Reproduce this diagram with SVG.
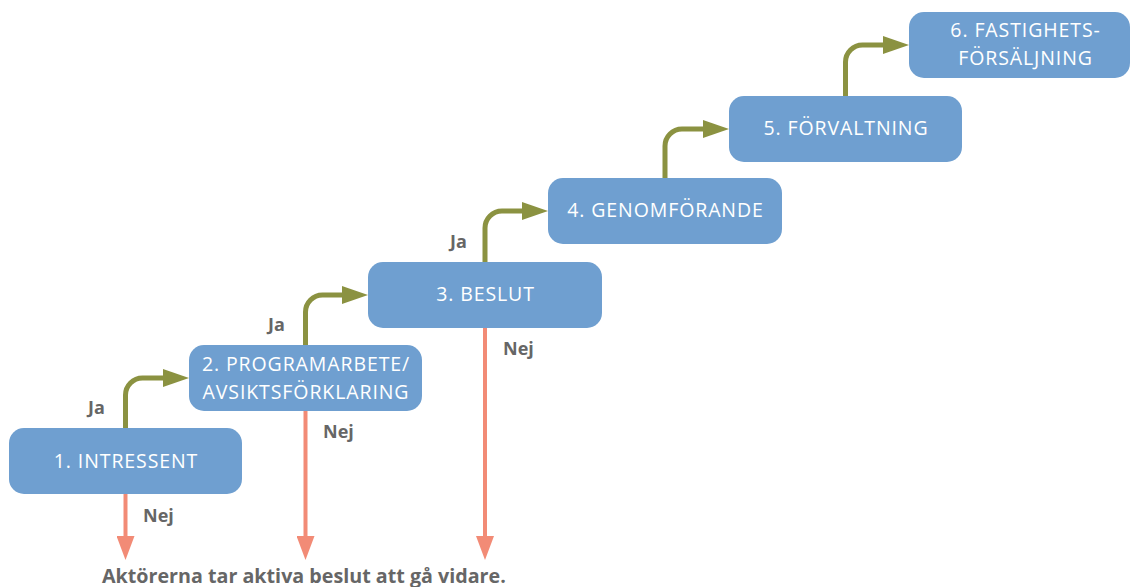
<svg xmlns="http://www.w3.org/2000/svg" width="1131" height="587" viewBox="0 0 1131 587">
<defs>
<style>
.box{fill:#6f9fd0;}
.nt{font-family:"Open Sans","Liberation Sans",sans-serif;font-size:19.5px;letter-spacing:0.9px;fill:#ffffff;text-anchor:middle;}
.lbl{font-family:"Open Sans","Liberation Sans",sans-serif;font-size:18px;font-weight:bold;fill:#666666;}
.yes{fill:none;stroke:#8b9241;stroke-width:5;marker-end:url(#ag);}
.no{fill:none;stroke:#f28b76;stroke-width:4;marker-end:url(#ar);}
</style>
<marker id="ag" markerUnits="userSpaceOnUse" markerWidth="26" markerHeight="18" refX="6" refY="9" orient="auto"><path d="M0,0 L26,9 L0,18 z" fill="#8b9241"/></marker>
<marker id="ar" markerUnits="userSpaceOnUse" markerWidth="24" markerHeight="18" refX="4" refY="9" orient="auto"><path d="M0,0 L24,9 L0,18 z" fill="#f28b76"/></marker>
</defs>
<rect width="1131" height="587" fill="#ffffff"/>
<g id="connectors">
<path class="yes" d="M125.5,428 V395 A17,17 0 0 1 142.5,378 H169"/>
<path class="yes" d="M305.5,345 V312 A17,17 0 0 1 322.5,295 H348"/>
<path class="yes" d="M485,262 V228 A17,17 0 0 1 502,211 H528"/>
<path class="yes" d="M665,178 V146 A17,17 0 0 1 682,129 H709"/>
<path class="yes" d="M845.5,96 V62 A17,17 0 0 1 862.5,45 H889"/>
<path class="no" d="M125.5,494 V540"/>
<path class="no" d="M305.5,411 V540"/>
<path class="no" d="M485,328 V540"/>
<text class="lbl" x="88" y="414">Ja</text>
<text class="lbl" x="268" y="331">Ja</text>
<text class="lbl" x="450" y="248">Ja</text>
<text class="lbl" x="143" y="522">Nej</text>
<text class="lbl" x="323" y="438">Nej</text>
<text class="lbl" x="503" y="355">Nej</text>
</g>
<g id="n1"><rect class="box" x="9" y="428" width="233" height="66" rx="15"/><text class="nt" x="126" y="468">1. INTRESSENT</text></g>
<g id="n2"><rect class="box" x="189" y="345" width="233" height="66" rx="15"/><text class="nt" x="306" y="371">2. PROGRAMARBETE/</text><text class="nt" x="306" y="399">AVSIKTSFÖRKLARING</text></g>
<g id="n3"><rect class="box" x="368" y="262" width="234" height="66" rx="15"/><text class="nt" x="485.5" y="301">3. BESLUT</text></g>
<g id="n4"><rect class="box" x="548" y="178" width="234" height="66" rx="15"/><text class="nt" x="665.5" y="217">4. GENOMFÖRANDE</text></g>
<g id="n5"><rect class="box" x="729" y="96" width="233" height="66" rx="15"/><text class="nt" x="846" y="135">5. FÖRVALTNING</text></g>
<g id="n6"><rect class="box" x="909" y="12" width="221" height="66" rx="15"/><text class="nt" x="1025.5" y="37">6. FASTIGHETS-</text><text class="nt" x="1025.5" y="65">FÖRSÄLJNING</text></g>
<text class="lbl" x="102" y="583" style="font-size:19.7px">Aktörerna tar aktiva beslut att gå vidare.</text>
</svg>
